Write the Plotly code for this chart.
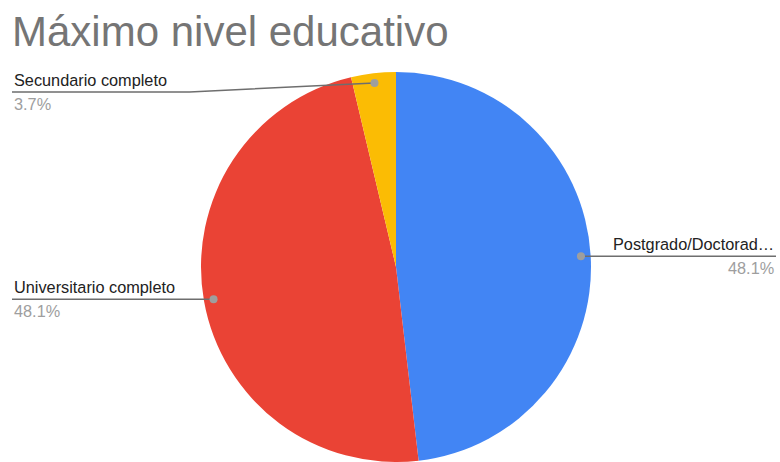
import math
import plotly.graph_objects as go

# Data
categories = ["Postgrado/Doctorado", "Universitario completo", "Secundario completo"]
display_labels = ["Postgrado/Doctorad…", "Universitario completo", "Secundario completo"]
counts = [13, 13, 1]
colors = ["#4285F4", "#EA4335", "#FBBC04"]

W, H = 780, 462
TITLE = "Máximo nivel educativo"
FONT = "Liberation Sans, Arial, sans-serif"

# Pie placement in pixels (paper domain derived from these)
cx_px, top_px = 396, 72
diam = H - top_px
radius = diam / 2.0
cy_px = top_px + radius
dom_x = [(cx_px - radius) / W, (cx_px + radius) / W]
dom_y = [0.0, diam / H]

fig = go.Figure(go.Pie(
    labels=categories,
    values=counts,
    sort=False,
    direction="clockwise",
    rotation=0,
    textinfo="none",
    hoverinfo="label+percent",
    marker=dict(colors=colors, line=dict(width=0)),
    domain=dict(x=dom_x, y=dom_y),
    showlegend=False,
))


def px_to_paper(x, y):
    return x / W, 1 - y / H


shapes = []
annotations = []
total = sum(counts)
start = 0.0
LEFT_X, RIGHT_X = 12, 776
MIN_LABEL_Y = 92
LABEL_SIZE = 16.3
for lab, v in zip(display_labels, counts):
    frac = v / total
    mid = (start + frac / 2) * 2 * math.pi  # clockwise from 12 o'clock
    start += frac
    dx, dy = math.sin(mid), -math.cos(mid)
    r = radius * 0.95
    px, py = cx_px + r * dx, cy_px + r * dy
    right = dx > 0
    ly = max(py, MIN_LABEL_Y)
    end_x = RIGHT_X if right else LEFT_X
    bend_x = px + (18 if right else -18) if abs(ly - py) < 0.5 else (px - 185 if not right else px + 185)
    pts = [(px, py), (bend_x, ly), (end_x, ly)]
    path = "M " + " L ".join(f"{a/W:.5f},{1-b/H:.5f}" for a, b in pts)
    shapes.append(dict(type="path", path=path, xref="paper", yref="paper",
                       line=dict(color="#6E6E6E", width=1.5)))
    x0, y0 = px_to_paper(px - 4, py - 4)
    x1, y1 = px_to_paper(px + 4, py + 4)
    shapes.append(dict(type="circle", xref="paper", yref="paper",
                       x0=x0, y0=y1, x1=x1, y1=y0,
                       fillcolor="#9E9E9E", line=dict(width=0)))
    ax, ayp = px_to_paper(end_x, ly)
    anchor = "right" if right else "left"
    annotations.append(dict(x=ax, y=ayp + 1 / H, xref="paper", yref="paper",
                            text=lab, showarrow=False, xanchor=anchor, yanchor="bottom",
                            font=dict(family=FONT, size=LABEL_SIZE, color="#222222")))
    annotations.append(dict(x=ax, y=ayp - 1 / H, xref="paper", yref="paper",
                            text=f"{100*frac:.1f}%", showarrow=False, xanchor=anchor, yanchor="top",
                            font=dict(family=FONT, size=LABEL_SIZE, color="#9E9E9E")))

annotations.append(dict(x=10 / W, y=1 - 6 / H, xref="paper", yref="paper",
                        text=TITLE, showarrow=False, xanchor="left", yanchor="top",
                        font=dict(family=FONT, size=42, color="#757575")))

fig.update_layout(
    width=W, height=H,
    margin=dict(l=0, r=0, t=0, b=0),
    paper_bgcolor="white", plot_bgcolor="white",
    shapes=shapes, annotations=annotations,
)

fig.write_html("out.html")
